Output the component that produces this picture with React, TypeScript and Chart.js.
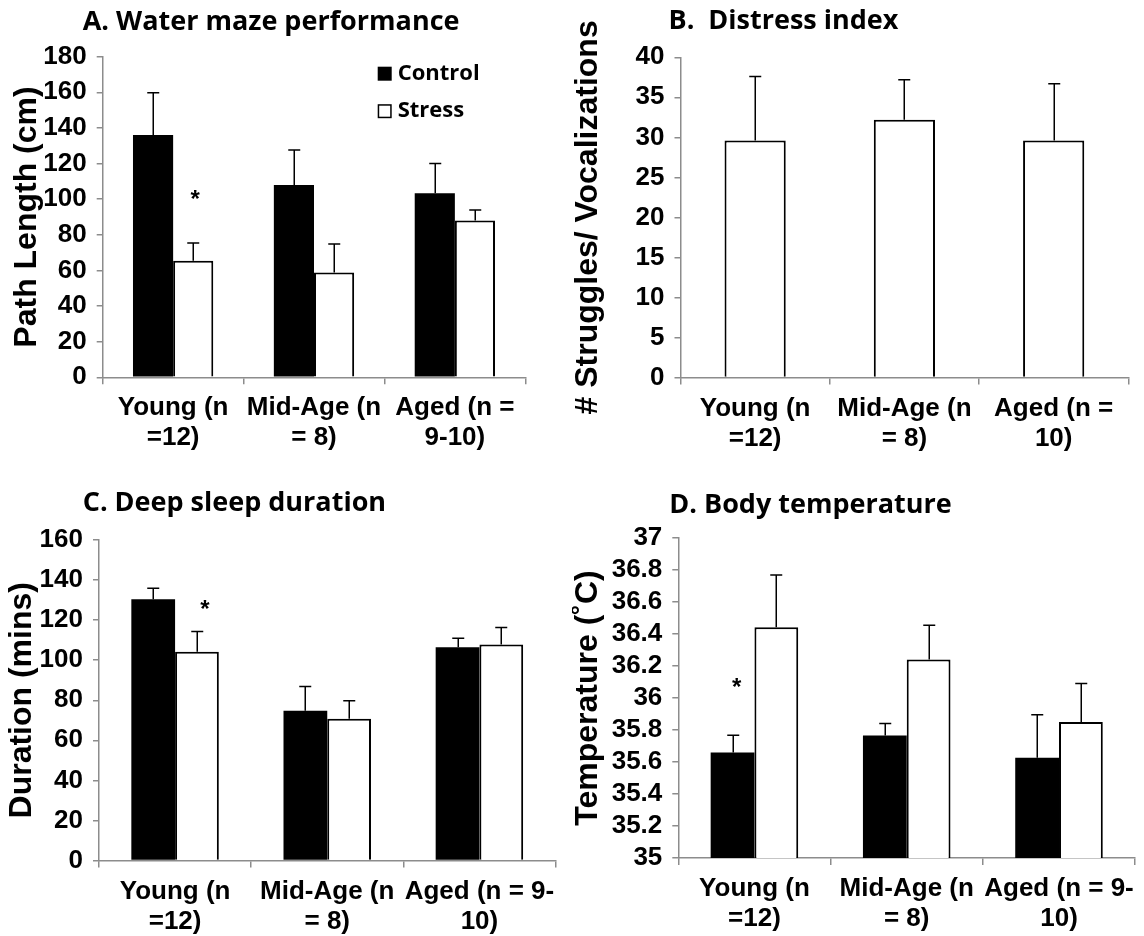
import React, { useEffect, useRef } from 'react';
import { Chart, registerables } from 'chart.js';

Chart.register(...registerables);

// ---------- data ----------
const seriesNames = ['Control', 'Stress'];

const labelsA = [['Young (n', '=12)'], ['Mid-Age (n', '= 8)'], ['Aged (n =', '9-10)']];
const labelsB = [['Young (n', '=12)'], ['Mid-Age (n', '= 8)'], ['Aged (n =', '10)']];
const labelsCD = [['Young (n', '=12)'], ['Mid-Age (n', '= 8)'], ['Aged (n = 9-', '10)']];

// A. Water maze performance (path length, cm)
const mazeControl = [136.0, 108.0, 103.3];
const mazeControlErr = [23.8, 19.6, 16.8];
const mazeStress = [65.5, 58.8, 88.1];
const mazeStressErr = [9.9, 16.0, 5.8];
const mazeAxis = [0, 180, 20];

// B. Distress index
const distress = [29.6, 32.2, 29.6];
const distressErr = [8.0, 5.0, 7.1];
const distressAxis = [0, 40, 5];

// C. Deep sleep duration (mins)
const sleepControl = [130.4, 74.8, 106.5];
const sleepControlErr = [5.5, 12.1, 4.5];
const sleepStress = [104.2, 70.8, 107.8];
const sleepStressErr = [10.1, 8.9, 8.5];
const sleepAxis = [0, 160, 20];

// D. Body temperature (°C)
const tempControl = [35.66, 35.765, 35.627];
const tempControlErr = [0.107, 0.075, 0.269];
const tempStress = [36.442, 36.24, 35.85];
const tempStressErr = [0.327, 0.214, 0.24];
const tempAxis = [35, 37, 0.2];

// significance markers: [datasetIndex, categoryIndex, value]
const mazeStars = [[1, 0, 102.4]];
const sleepStars = [[1, 0, 127.6]];
const tempStars = [[0, 0, 36.09]];

// ---------- styles ----------
const AXIS_GRAY = '#8c8c8c';
const TICK_FONT = '"Liberation Sans", Arial, sans-serif';
const TITLE_FONT = '"Open Sans", Lato, sans-serif';

const decor = {
  id: 'decor',
  afterDatasetsDraw(chart: any, _a: any, opts: any) {
    const ctx = chart.ctx;
    const yScale = chart.scales.y;
    ctx.save();
    ctx.strokeStyle = '#000';
    ctx.lineWidth = 1.5;
    (opts.errors || []).forEach((errs: number[], di: number) => {
      const meta = chart.getDatasetMeta(di);
      const vals = chart.data.datasets[di].data;
      meta.data.forEach((bar: any, i: number) => {
        const topPx = yScale.getPixelForValue(vals[i] + errs[i]);
        const x = Math.round(bar.x) + 0.25;
        ctx.beginPath();
        ctx.moveTo(x, bar.y);
        ctx.lineTo(x, topPx);
        ctx.moveTo(x - 6, topPx);
        ctx.lineTo(x + 6, topPx);
        ctx.stroke();
      });
    });
    (opts.stars || []).forEach((s: number[]) => {
      const bar = chart.getDatasetMeta(s[0]).data[s[1]];
      ctx.font = 'bold 24px ' + TICK_FONT;
      ctx.textAlign = 'center';
      ctx.textBaseline = 'middle';
      ctx.fillStyle = '#000';
      ctx.fillText('*', bar.x + (opts.starDx || 0), yScale.getPixelForValue(s[2]) + 5);
    });
    ctx.restore();
  },
  afterDraw(chart: any, _a: any, opts: any) {
    const ctx = chart.ctx;
    const area = chart.chartArea;
    ctx.save();
    ctx.fillStyle = '#000';
    ctx.textAlign = 'left';
    ctx.textBaseline = 'alphabetic';
    ctx.font = '700 27px ' + TITLE_FONT;
    ctx.fillText(opts.title, area.left + opts.titleDx, area.top + opts.titleDy);
    if (opts.legend) {
      const bx = area.left + opts.legend[0];
      const by = area.top + opts.legend[1];
      const gap = 37.5;
      ctx.font = '700 22px ' + TITLE_FONT;
      ctx.textBaseline = 'middle';
      ctx.fillStyle = '#000';
      ctx.fillRect(bx, by, 14, 14);
      ctx.fillText(seriesNames[0], bx + 20, by + 7);
      ctx.fillStyle = '#fff';
      ctx.fillRect(bx, by + gap, 14, 14);
      ctx.strokeStyle = '#000';
      ctx.lineWidth = 1.5;
      ctx.strokeRect(bx + 0.75, by + gap + 0.75, 12.5, 12.5);
      ctx.fillStyle = '#000';
      ctx.fillText(seriesNames[1], bx + 20, by + gap + 7);
    }
    ctx.restore();
  },
};

function controlSet(data: number[]) {
  return { label: seriesNames[0], data, backgroundColor: '#000', borderColor: '#000', borderWidth: 0 };
}
function stressSet(data: number[]) {
  return { label: seriesNames[1], data, backgroundColor: '#fff', borderColor: '#000', borderWidth: 2 };
}

const panels = [
  {
    key: 'A', left: 0, top: 0, width: 572, height: 468,
    padLeft: 11, padRight: 46.7, padTop: 56.7, yAxisWidth: 91.7, xAxisHeight: 90.7,
    title: 'A. Water maze performance', titleDx: -20, titleDy: -27,
    yTitle: 'Path Length (cm)', labels: labelsA, axis: mazeAxis, catPct: 0.57,
    datasets: [controlSet(mazeControl), stressSet(mazeStress)],
    errors: [mazeControlErr, mazeStressErr], stars: mazeStars, starDx: 2,
    legend: [275, 10],
  },
  {
    key: 'B', left: 572, top: 0, width: 572, height: 468,
    padLeft: 0, padRight: 15.7, padTop: 57.3, yAxisWidth: 108.5, xAxisHeight: 90.5,
    title: 'B.  Distress index', titleDx: -12, titleDy: -28,
    yTitle: '# Struggles/ Vocalizations', labels: labelsB, axis: distressAxis, catPct: 0.41,
    datasets: [stressSet(distress)],
    errors: [distressErr], stars: [], starDx: 0, legend: null,
  },
  {
    key: 'C', left: 0, top: 468, width: 572, height: 468,
    padLeft: 6, padRight: 16.5, padTop: 72, yAxisWidth: 93, xAxisHeight: 75.5,
    title: 'C. Deep sleep duration', titleDx: -16.3, titleDy: -28.7,
    yTitle: 'Duration (mins)', labels: labelsCD, axis: sleepAxis, catPct: 0.575,
    datasets: [controlSet(sleepControl), stressSet(sleepStress)],
    errors: [sleepControlErr, sleepStressErr], stars: sleepStars, starDx: 8, legend: null,
  },
  {
    key: 'D', left: 572, top: 468, width: 572, height: 468,
    padLeft: 0, padRight: 7.4, padTop: 70, yAxisWidth: 106.3, xAxisHeight: 78,
    title: 'D. Body temperature', titleDx: -9, titleDy: -25,
    yTitle: 'Temperature (\u02daC)', labels: labelsCD, axis: tempAxis, catPct: 0.575,
    datasets: [controlSet(tempControl), stressSet(tempStress)],
    errors: [tempControlErr, tempStressErr], stars: tempStars, starDx: 4, legend: null,
  },
];

function buildConfig(p: any): any {
  const tickFont = { family: TICK_FONT, size: 26, weight: 'bold', lineHeight: 1.15 };
  return {
    type: 'bar',
    data: {
      labels: p.labels,
      datasets: p.datasets.map((d: any) => ({ ...d, categoryPercentage: p.catPct, barPercentage: 1, borderSkipped: 'start' })),
    },
    options: {
      animation: false,
      responsive: false,
      maintainAspectRatio: false,
      layout: { padding: { left: p.padLeft, right: p.padRight, top: p.padTop, bottom: 0 } },
      plugins: {
        legend: { display: false },
        tooltip: { enabled: false },
        title: { display: false },
        decor: {
          title: p.title, titleDx: p.titleDx, titleDy: p.titleDy,
          errors: p.errors, stars: p.stars, starDx: p.starDx, legend: p.legend,
        },
      },
      scales: {
        x: {
          grid: { display: true, drawOnChartArea: false, drawTicks: true, tickLength: 7, color: AXIS_GRAY, lineWidth: 1.5, offset: true },
          border: { display: true, color: AXIS_GRAY, width: 1.5 },
          ticks: { color: '#000', font: tickFont, padding: 9, autoSkip: false, maxRotation: 0, minRotation: 0 },
          afterFit: (s: any) => { s.height = p.xAxisHeight; },
        },
        y: {
          min: p.axis[0],
          max: p.axis[1],
          grid: { display: true, drawOnChartArea: false, drawTicks: true, tickLength: 6, color: AXIS_GRAY, lineWidth: 1.5 },
          border: { display: true, color: AXIS_GRAY, width: 1.5 },
          ticks: {
            stepSize: p.axis[2],
            autoSkip: false,
            color: '#000',
            font: { ...tickFont, lineHeight: 1 },
            padding: 10,
            callback: (v: any) => String(Number(Number(v).toFixed(1))),
          },
          title: {
            display: true,
            text: p.yTitle,
            color: '#000',
            font: { family: TICK_FONT, size: 32, weight: 'bold', lineHeight: 1 },
            padding: { top: 0, bottom: 0 },
          },
          afterFit: (s: any) => { s.width = p.yAxisWidth; },
        },
      },
    },
    plugins: [decor],
  };
}

function Panel({ p }: { p: any }) {
  const ref = useRef<HTMLCanvasElement>(null);
  useEffect(() => {
    const chart = new Chart(ref.current as HTMLCanvasElement, buildConfig(p));
    return () => chart.destroy();
  }, []);
  return (
    <canvas
      ref={ref}
      width={p.width}
      height={p.height}
      style={{ position: 'absolute', left: p.left, top: p.top, width: p.width, height: p.height, display: 'block' }}
    />
  );
}

export default function App() {
  return (
    <div style={{ position: 'absolute', left: 0, top: 0, width: 1144, height: 936, background: '#fff', overflow: 'hidden' }}>
      {panels.map((p) => (
        <Panel key={p.key} p={p} />
      ))}
    </div>
  );
}
